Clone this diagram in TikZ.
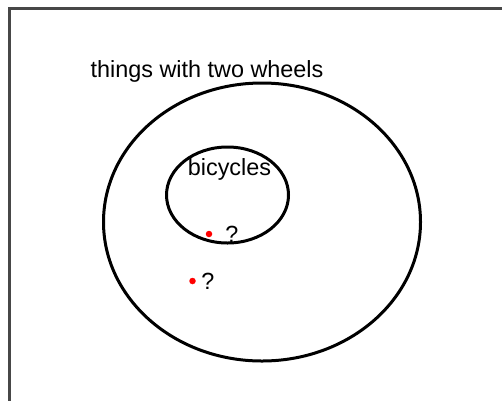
\documentclass[tikz,border=0pt]{standalone}
\usepackage{fontspec}
\setmainfont{Liberation Sans}
\usetikzlibrary{shapes.geometric}
\begin{document}
\begin{tikzpicture}[x=1pt,y=-1pt,
  setring/.style={draw=black,line width=3pt},
  lbl/.style={font=\fontsize{23.4}{26}\selectfont,anchor=base,inner sep=0pt},
  reddot/.style={circle,fill=red,inner sep=0pt,minimum size=6.5pt},
  frameline/.style={draw=black!72,line width=2.4pt}]
\useasboundingbox (0,0) rectangle (502,400);
\draw[frameline] (9.5,8.5) rectangle (515,415);
\node[setring,ellipse,minimum width=317pt,minimum height=278pt,inner sep=0pt] (outer) at (262,222) {};
\node[setring,ellipse,minimum width=122pt,minimum height=96pt,inner sep=0pt] (inner) at (227.5,195) {};
\node[lbl] (twowheels) at (207,77) {things with two wheels};
\node[lbl] (bicycles) at (229.5,175) {bicycles};
\node[reddot] (d1) at (209,234) {};
\node[lbl] (q1) at (232,242) {?};
\node[reddot] (d2) at (192.5,281) {};
\node[lbl] (q2) at (208,289) {?};
\end{tikzpicture}
\end{document}
